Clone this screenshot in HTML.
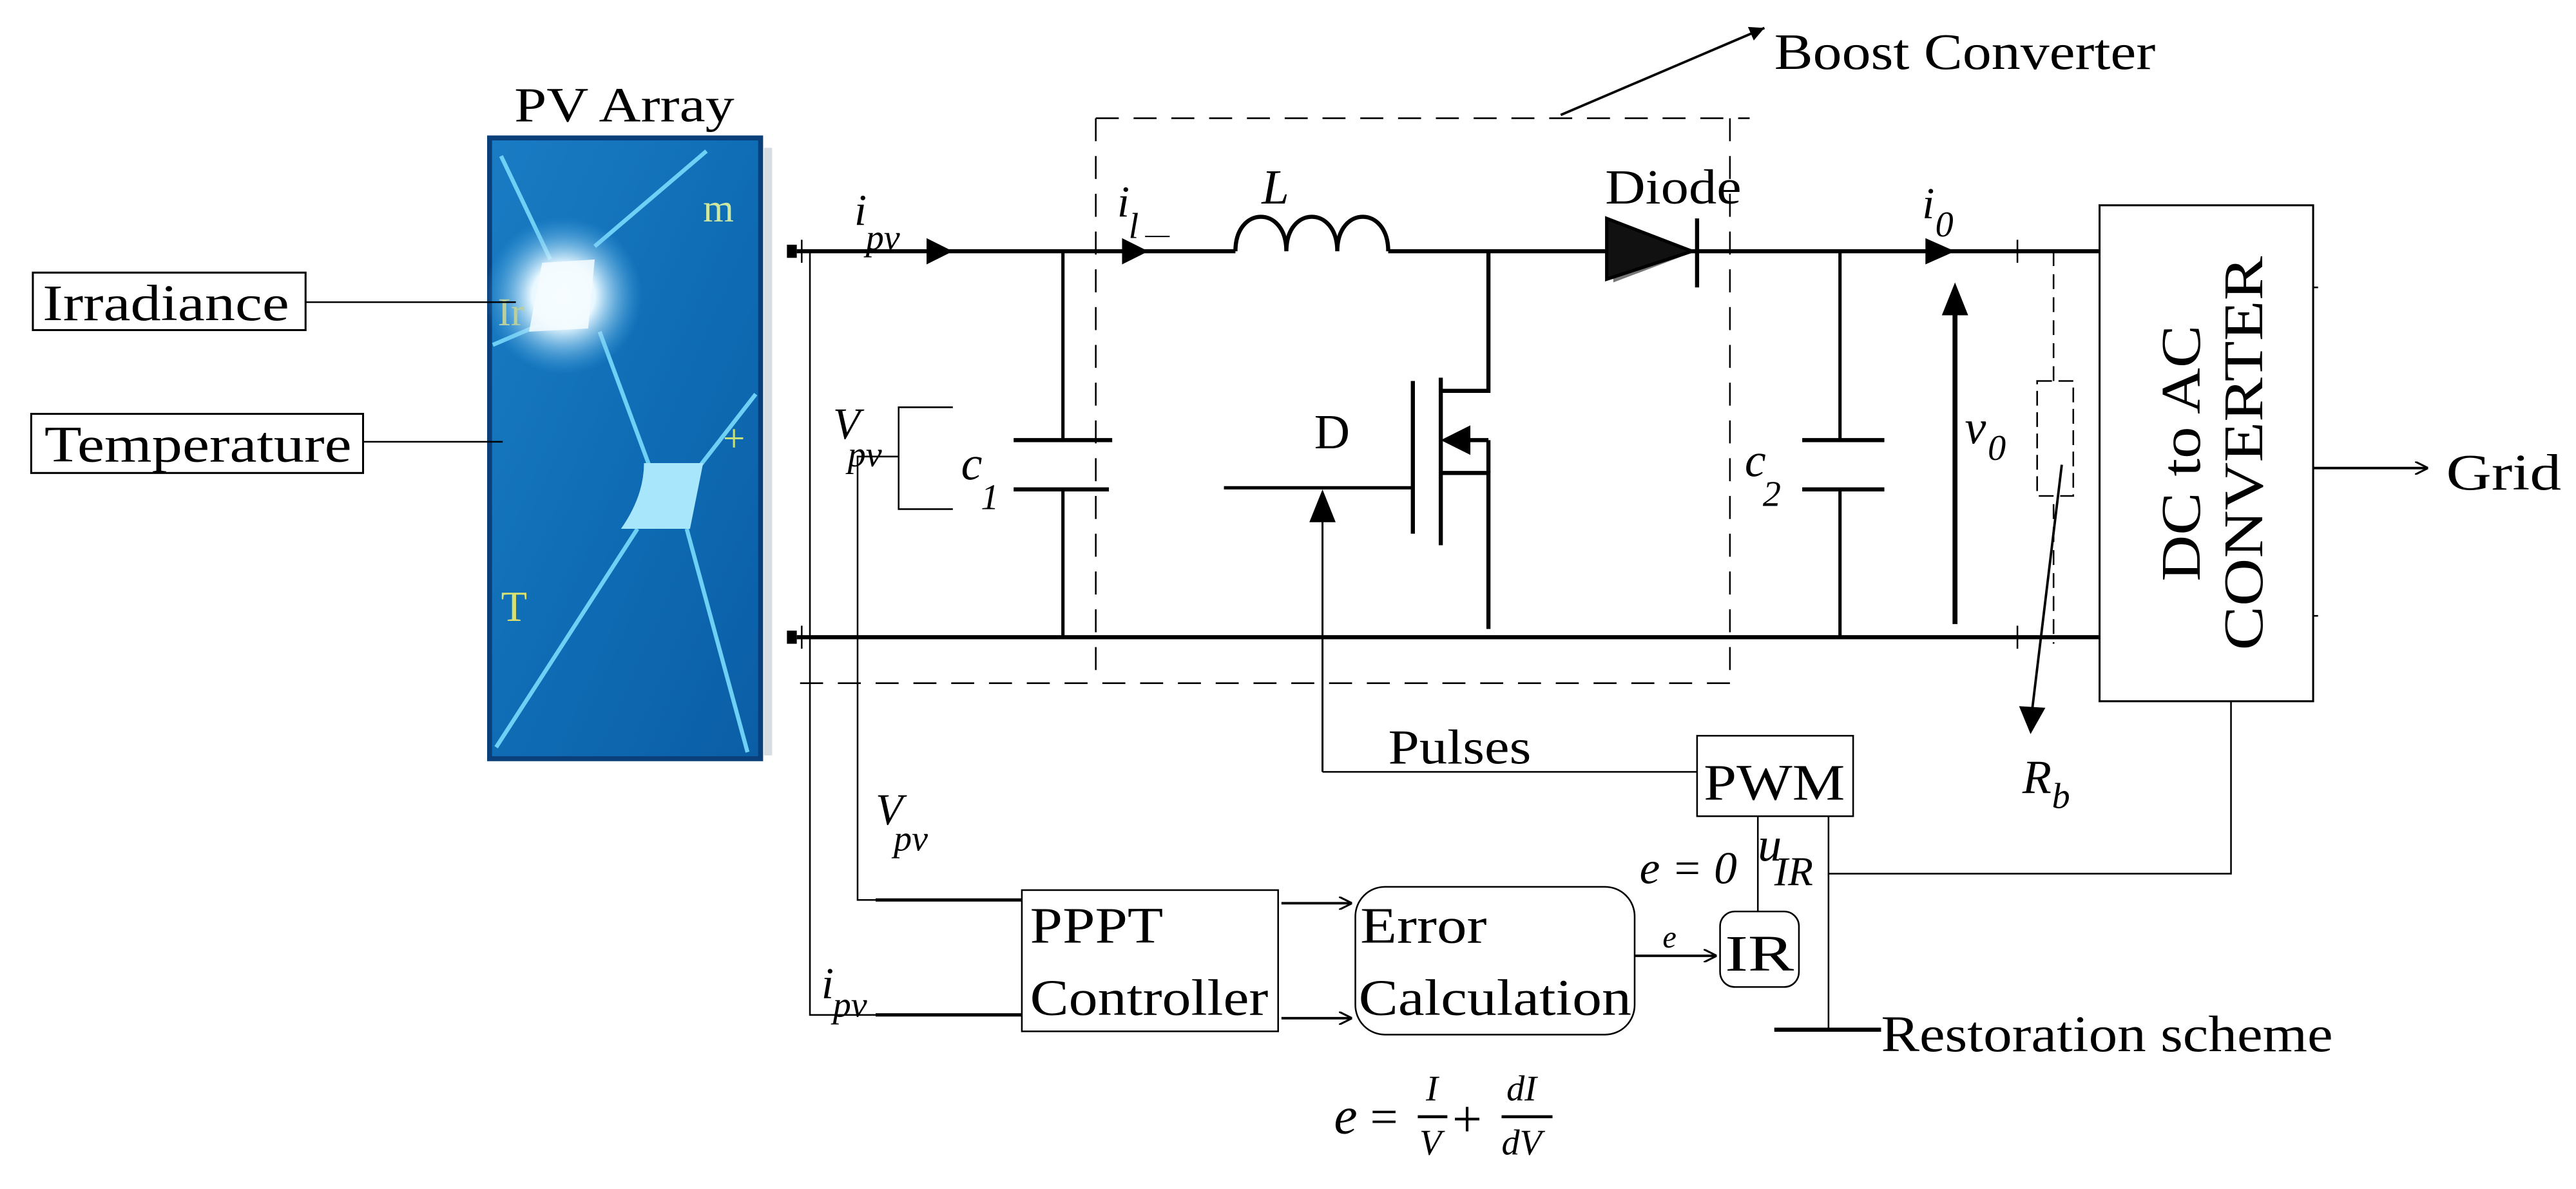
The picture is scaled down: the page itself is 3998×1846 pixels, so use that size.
<!DOCTYPE html>
<html><head><meta charset="utf-8"><style>
html,body{margin:0;padding:0;background:#fff;}
svg{display:block;}
text{font-family:"Liberation Serif",serif;fill:#000;}
.i{font-style:italic;}
</style></head><body>
<svg width="3998" height="1846" viewBox="0 0 1568 724" preserveAspectRatio="none" xmlns="http://www.w3.org/2000/svg">
<defs>
<linearGradient id="pg" x1="0" y1="0" x2="1" y2="1">
<stop offset="0" stop-color="#1a7cc4"/><stop offset="0.5" stop-color="#0f6db5"/><stop offset="1" stop-color="#0b5ea6"/>
</linearGradient>
<radialGradient id="glow" cx="0.5" cy="0.5" r="0.5">
<stop offset="0" stop-color="#ffffff"/><stop offset="0.4" stop-color="#e8f8ff"/><stop offset="1" stop-color="#4fb0e8" stop-opacity="0"/>
</radialGradient>
<marker id="ah" viewBox="0 0 10 10" refX="10" refY="5" markerWidth="9" markerHeight="9" orient="auto" markerUnits="userSpaceOnUse"><path d="M0,0 L10,5 L0,10 z" fill="#000"/></marker>
<marker id="oa" viewBox="0 0 10 10" refX="10" refY="5" markerWidth="8" markerHeight="8" orient="auto" markerUnits="userSpaceOnUse"><path d="M0,0 L10,5 L0,10" fill="none" stroke="#000" stroke-width="1.5"/></marker>
</defs>

<!-- PV panel -->
<text x="313" y="74" font-size="30" textLength="134" lengthAdjust="spacingAndGlyphs">PV Array</text>
<rect x="298" y="84" width="165" height="378" fill="url(#pg)" stroke="#0a3f7a" stroke-width="3"/>
<g stroke="#6fd0f5" stroke-width="2.5" fill="none">
<path d="M305,95 L335,158"/><path d="M362,150 L430,92"/><path d="M328,198 L300,210"/>
<path d="M365,202 L395,283"/><path d="M425,285 L460,240"/><path d="M388,322 L302,455"/><path d="M418,322 L455,458"/>
</g>
<path d="M392,282 L428,282 L420,322 L378,322 Q392,302 392,282 z" fill="#a8e6fb"/>
<circle cx="343" cy="180" r="48" fill="url(#glow)"/>
<path d="M330,160 L362,158 L358,200 L322,202 z" fill="#f4fcff" opacity="0.85"/>
<text x="428" y="135" font-size="24" style="fill:#cfe8a0">m</text>
<text x="440" y="275" font-size="24" style="fill:#c8e07a">+</text>
<text x="305" y="378" font-size="26" style="fill:#d8e070">T</text>
<text x="303" y="198" font-size="24" style="fill:#b8d0a0">Ir</text>
<rect x="465" y="90" width="5" height="370" fill="#d8dde2"/>

<!-- Irradiance / Temperature -->
<rect x="20" y="166" width="166" height="35" fill="none" stroke="#000" stroke-width="1.2"/>
<text x="26" y="195" font-size="31" textLength="150" lengthAdjust="spacingAndGlyphs">Irradiance</text>
<line x1="186" y1="184" x2="314" y2="184" stroke="#000" stroke-width="1"/>
<rect x="19" y="252" width="202" height="36" fill="none" stroke="#000" stroke-width="1.2"/>
<text x="27" y="281" font-size="31" textLength="187" lengthAdjust="spacingAndGlyphs">Temperature</text>
<line x1="221" y1="269" x2="306" y2="269" stroke="#000" stroke-width="1"/>

<!-- rails -->
<rect x="479" y="149" width="6" height="8" fill="#000"/>
<rect x="479" y="384" width="6" height="8" fill="#000"/>
<line x1="485" y1="153" x2="1278" y2="153" stroke="#000" stroke-width="2.5"/>
<line x1="485" y1="388" x2="1278" y2="388" stroke="#000" stroke-width="2.5"/>
<line x1="488" y1="146" x2="488" y2="160" stroke="#000" stroke-width="1"/>
<line x1="488" y1="381" x2="488" y2="395" stroke="#000" stroke-width="1"/>
<path d="M564,145 L580,153 L564,161 z" fill="#000"/>
<text x="520" y="137" font-size="27" class="i">i</text><text x="527" y="152" font-size="22" class="i">pv</text>

<!-- left signal lines -->
<polyline points="493,153 493,618 622,618" fill="none" stroke="#000" stroke-width="1"/>
<line x1="533" y1="618" x2="622" y2="618" stroke="#000" stroke-width="2"/>
<text x="500" y="608" font-size="27" class="i">i</text><text x="507" y="619" font-size="22" class="i">pv</text>
<polyline points="547,278 522,278 522,548 622,548" fill="none" stroke="#000" stroke-width="1"/>
<line x1="533" y1="548" x2="622" y2="548" stroke="#000" stroke-width="2"/>
<text x="533" y="502" font-size="27" class="i">V</text><text x="544" y="518" font-size="22" class="i">pv</text>
<text x="507" y="267" font-size="27" class="i">V</text><text x="516" y="284" font-size="22" class="i">pv</text>
<polyline points="580,248 547,248 547,310 580,310" fill="none" stroke="#000" stroke-width="1"/>

<!-- c1 -->
<polyline points="647,153 647,268" fill="none" stroke="#000" stroke-width="2"/>
<line x1="617" y1="268" x2="677" y2="268" stroke="#000" stroke-width="2.5"/>
<line x1="617" y1="298" x2="675" y2="298" stroke="#000" stroke-width="2.5"/>
<line x1="647" y1="298" x2="647" y2="388" stroke="#000" stroke-width="2"/>
<text x="585" y="292" font-size="29" class="i">c</text><text x="597" y="310" font-size="22" class="i">1</text>

<!-- boost dashed box -->
<g stroke="#000" stroke-width="1" fill="none" stroke-dasharray="14,9">
<line x1="667" y1="72" x2="1065" y2="72"/>
<line x1="1053" y1="72" x2="1053" y2="416"/>
<line x1="667" y1="72" x2="667" y2="416"/>
<line x1="487" y1="416" x2="1055" y2="416"/>
</g>
<line x1="950" y1="70" x2="1074" y2="17" stroke="#000" stroke-width="1.5" marker-end="url(#ah)"/>
<text x="1080" y="42" font-size="31" textLength="232" lengthAdjust="spacingAndGlyphs">Boost Converter</text>

<!-- il, inductor -->
<path d="M683,145 L699,153 L683,161 z" fill="#000"/>
<text x="680" y="132" font-size="27" class="i">i</text><text x="687" y="145" font-size="22" class="i">l</text>
<line x1="697" y1="144" x2="712" y2="144" stroke="#000" stroke-width="0.8"/>
<text x="768" y="124" font-size="30" class="i">L</text>
<rect x="752" y="149" width="93" height="10" fill="#fff"/>
<path d="M752,153 C752,125 783,125 783,153 C783,125 814,125 814,153 C814,125 845,125 845,153" fill="none" stroke="#000" stroke-width="2.5"/>

<!-- diode -->
<path d="M982,138 L1032,153 L982,172 z" fill="#777"/>
<path d="M978,133 L1030,153 L978,170 z" fill="#111" stroke="#000" stroke-width="2"/>
<line x1="1033" y1="133" x2="1033" y2="175" stroke="#000" stroke-width="2.5"/>
<text x="977" y="124" font-size="30" textLength="83" lengthAdjust="spacingAndGlyphs">Diode</text>

<!-- MOSFET -->
<polyline points="906,153 906,238 877,238" fill="none" stroke="#000" stroke-width="2.5"/>
<line x1="877" y1="230" x2="877" y2="332" stroke="#000" stroke-width="2.5"/>
<line x1="860" y1="232" x2="860" y2="325" stroke="#000" stroke-width="2.5"/>
<polyline points="877,288 906,288 906,383" fill="none" stroke="#000" stroke-width="2.5"/>
<line x1="906" y1="268" x2="888" y2="268" stroke="#000" stroke-width="2.5"/>
<line x1="906" y1="268" x2="906" y2="288" stroke="#000" stroke-width="2.5"/>
<path d="M877,268 L895,259 L895,277 z" fill="#000"/>
<line x1="745" y1="297" x2="860" y2="297" stroke="#000" stroke-width="2"/>
<text x="800" y="273" font-size="30">D</text>

<!-- Pulses -->
<polyline points="805,470 805,306" fill="none" stroke="#000" stroke-width="1.2"/>
<path d="M797,318 L805,298 L813,318 z" fill="#000"/>
<line x1="805" y1="470" x2="1033" y2="470" stroke="#000" stroke-width="1"/>
<text x="845" y="465" font-size="30" textLength="87" lengthAdjust="spacingAndGlyphs">Pulses</text>

<!-- c2 -->
<line x1="1120" y1="153" x2="1120" y2="268" stroke="#000" stroke-width="2"/>
<line x1="1097" y1="268" x2="1147" y2="268" stroke="#000" stroke-width="2.5"/>
<line x1="1097" y1="298" x2="1147" y2="298" stroke="#000" stroke-width="2.5"/>
<line x1="1120" y1="298" x2="1120" y2="388" stroke="#000" stroke-width="2"/>
<text x="1062" y="290" font-size="29" class="i">c</text><text x="1073" y="308" font-size="22" class="i">2</text>

<!-- i0 -->
<path d="M1172,145 L1190,153 L1172,161 z" fill="#000"/>
<text x="1170" y="133" font-size="27" class="i">i</text><text x="1178" y="144" font-size="22" class="i">0</text>
<line x1="1228" y1="146" x2="1228" y2="160" stroke="#000" stroke-width="1"/>
<line x1="1228" y1="381" x2="1228" y2="395" stroke="#000" stroke-width="1"/>

<!-- v0 -->
<line x1="1190" y1="380" x2="1190" y2="188" stroke="#000" stroke-width="3"/>
<path d="M1182,192 L1190,172 L1198,192 z" fill="#000"/>
<text x="1196" y="270" font-size="29" class="i">v</text><text x="1210" y="280" font-size="22" class="i">0</text>

<!-- Rb -->
<line x1="1250" y1="153" x2="1250" y2="392" stroke="#000" stroke-width="1" stroke-dasharray="9,5"/>
<rect x="1240" y="232" width="22" height="70" fill="#fff" stroke="#000" stroke-width="1" stroke-dasharray="9,4"/>
<line x1="1255" y1="283" x2="1237" y2="432" stroke="#000" stroke-width="1.5"/>
<path d="M1229,430 L1236,447 L1245,431 z" fill="#000"/>
<text x="1231" y="483" font-size="29" class="i">R</text><text x="1249" y="492" font-size="22" class="i">b</text>

<!-- DC-AC converter -->
<rect x="1278" y="125" width="130" height="302" fill="none" stroke="#000" stroke-width="1.2"/>
<text transform="translate(1339,276) rotate(-90)" font-size="34" text-anchor="middle" textLength="156" lengthAdjust="spacingAndGlyphs">DC to AC</text>
<text transform="translate(1377,276) rotate(-90)" font-size="34" text-anchor="middle" textLength="240" lengthAdjust="spacingAndGlyphs">CONVERTER</text>
<line x1="1408" y1="285" x2="1478" y2="285" stroke="#000" stroke-width="1.5" marker-end="url(#oa)"/>
<text x="1489" y="298" font-size="31" textLength="70" lengthAdjust="spacingAndGlyphs">Grid</text>
<line x1="1408" y1="175" x2="1411" y2="175" stroke="#000"/>
<line x1="1408" y1="375" x2="1411" y2="375" stroke="#000"/>

<!-- PWM and feedback -->
<rect x="1033" y="448" width="95" height="49" fill="#fff" stroke="#000" stroke-width="1"/>
<text x="1037" y="487" font-size="31" textLength="86" lengthAdjust="spacingAndGlyphs">PWM</text>
<line x1="1070" y1="497" x2="1070" y2="556" stroke="#000" stroke-width="1"/>
<polyline points="1358,427 1358,532 1113,532" fill="none" stroke="#000" stroke-width="1"/>
<line x1="1113" y1="497" x2="1113" y2="627" stroke="#000" stroke-width="1"/>
<text x="998" y="538" font-size="28" class="i">e = 0</text>
<text x="1070" y="524" font-size="29" class="i">u</text><text x="1080" y="539" font-size="25" class="i">IR</text>
<line x1="1080" y1="627" x2="1145" y2="627" stroke="#000" stroke-width="2.5"/>
<text x="1145" y="640" font-size="31" textLength="275" lengthAdjust="spacingAndGlyphs">Restoration scheme</text>

<!-- IR -->
<rect x="1047" y="555" width="48" height="46" rx="9" fill="#fff" stroke="#000" stroke-width="1"/>
<text x="1050" y="591" font-size="31" textLength="42" lengthAdjust="spacingAndGlyphs">IR</text>
<line x1="995" y1="582" x2="1045" y2="582" stroke="#000" stroke-width="1.5" marker-end="url(#oa)"/>
<text x="1012" y="577" font-size="19" class="i">e</text>

<!-- Error calc -->
<rect x="825" y="540" width="170" height="90" rx="18" fill="#fff" stroke="#000" stroke-width="1"/>
<text x="828" y="574" font-size="31" textLength="77" lengthAdjust="spacingAndGlyphs">Error</text>
<text x="827" y="618" font-size="31" textLength="166" lengthAdjust="spacingAndGlyphs">Calculation</text>

<!-- PPPT -->
<rect x="622" y="542" width="156" height="86" fill="#fff" stroke="#000" stroke-width="1"/>
<text x="627" y="574" font-size="31" textLength="81" lengthAdjust="spacingAndGlyphs">PPPT</text>
<text x="627" y="618" font-size="31" textLength="145" lengthAdjust="spacingAndGlyphs">Controller</text>
<line x1="780" y1="550" x2="823" y2="550" stroke="#000" stroke-width="1.5" marker-end="url(#oa)"/>
<line x1="780" y1="620" x2="823" y2="620" stroke="#000" stroke-width="1.5" marker-end="url(#oa)"/>

<!-- formula -->
<text x="812" y="690" font-size="32" class="i">e</text>
<text x="834" y="690" font-size="30">=</text>
<text x="868" y="670" font-size="22" class="i">I</text>
<line x1="863" y1="680" x2="881" y2="680" stroke="#000" stroke-width="1.8"/>
<text x="864" y="703" font-size="22" class="i">V</text>
<text x="884" y="692" font-size="32">+</text>
<text x="917" y="670" font-size="22" class="i">dI</text>
<line x1="914" y1="680" x2="945" y2="680" stroke="#000" stroke-width="1.8"/>
<text x="914" y="703" font-size="22" class="i">dV</text>
</svg>
</body></html>
